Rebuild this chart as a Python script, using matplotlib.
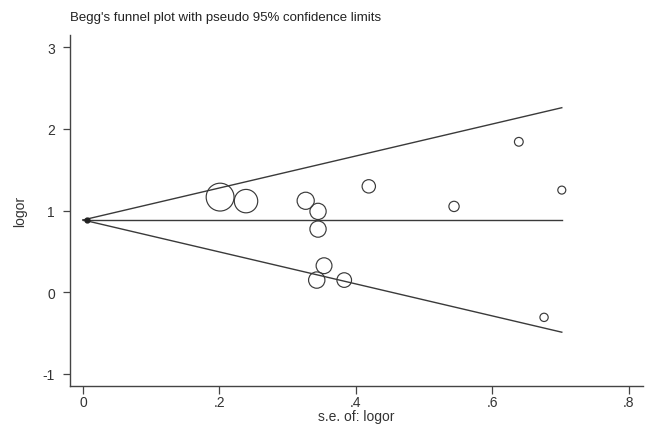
import numpy as np
import matplotlib
matplotlib.use("Agg")
import matplotlib.pyplot as plt

plt.rcParams['font.family'] = ['Liberation Sans', 'DejaVu Sans']

# Study data: standard error and log odds ratio
se = [0.201, 0.239, 0.3265, 0.3446, 0.3446, 0.3534, 0.3427, 0.383, 0.419,
      0.639, 0.702, 0.544, 0.676]
logor = [1.165, 1.116, 1.12, 0.99, 0.773, 0.324, 0.148, 0.148, 1.297,
         1.843, 1.251, 1.051, -0.309]
pooled = 0.885

xticks = [0, 0.2, 0.4, 0.6, 0.8]
xticklabels = ["0", ".2", ".4", ".6", ".8"]
yticks = [-1, 0, 1, 2, 3]
yticklabels = ["-1", "0", "1", "2", "3"]

se_arr = np.array(se)
lo_arr = np.array(logor)

fig = plt.figure(figsize=(6.53, 4.35), dpi=100)
ax = fig.add_axes([0.1077, 0.111, 0.8766, 0.806])

col = '#3a3a3a'
smax = se_arr.max()
xs = np.array([0, smax])
ax.plot(xs, pooled + 1.96 * xs, color=col, lw=1.0)
ax.plot(xs, pooled - 1.96 * xs, color=col, lw=1.0)
ax.plot(xs, [pooled, pooled], color=col, lw=1.0)
ax.plot([0.006], [pooled], marker='o', ms=3.5, color='#222222', ls='none')

sizes = (4.03 / se_arr) ** 2
ax.scatter(se_arr, lo_arr, s=sizes, facecolors='none', edgecolors='#3a3a3a',
           linewidths=0.85, zorder=3)

ax.set_xlim(-0.0186, 0.8207)
ax.set_ylim(-1.147, 3.151)
ax.set_xticks(xticks)
ax.set_xticklabels(xticklabels)
ax.set_yticks(yticks)
ax.set_yticklabels(yticklabels)

for s in ['top', 'right']:
    ax.spines[s].set_visible(False)
for s in ['left', 'bottom']:
    ax.spines[s].set_color('#444444')
    ax.spines[s].set_linewidth(1.0)

ax.tick_params(axis='x', direction='out', length=6, width=0.9, colors='#444444',
               labelcolor='#333333', labelsize=10, pad=1)
ax.tick_params(axis='y', direction='out', length=5, width=0.9, colors='#444444',
               labelcolor='#333333', labelsize=10, pad=6)

ax.set_xlabel("s.e. of: logor", fontsize=10, color='#333333', labelpad=0)
ax.set_ylabel("logor", fontsize=10, color='#333333', labelpad=11)

fig.text(70 / 653, 1 - 18 / 435, "Begg's funnel plot with pseudo 95% confidence limits",
         fontsize=9.5, color='#222222', ha='left', va='center')

fig.savefig("out.png", dpi=100)
